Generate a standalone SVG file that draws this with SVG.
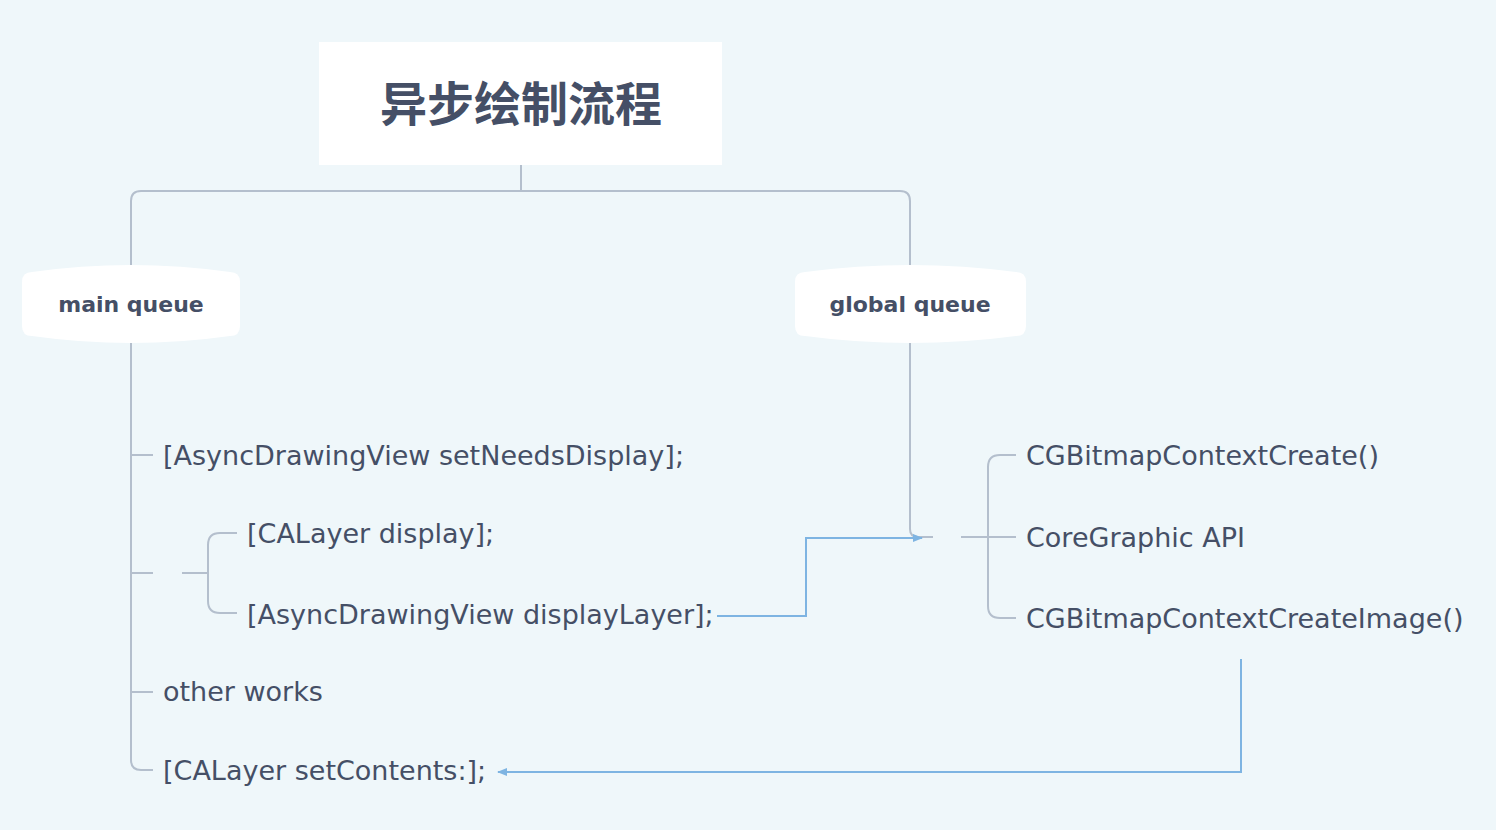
<svg xmlns="http://www.w3.org/2000/svg" width="1496" height="830" viewBox="0 0 1496 830">
<defs>
<style>
.bg{fill:#eff7fa}
.node{fill:#ffffff}
.ln{fill:none;stroke:#b4bfcd;stroke-width:2}
.bl{fill:none;stroke:#7eb4e2;stroke-width:2}
.t{font-family:"DejaVu Sans",sans-serif;font-size:27px;fill:#454f66}
.b{font-family:"DejaVu Sans",sans-serif;font-size:22px;font-weight:bold;fill:#454f66}
.h{font-family:"Noto Sans CJK SC","Noto Sans",sans-serif;font-size:47px;font-weight:bold;fill:#454f66}
</style>
<marker id="ar" viewBox="0 0 10 10" refX="9" refY="5" markerWidth="5" markerHeight="5" orient="auto" markerUnits="strokeWidth">
<path d="M0,1 L10,5 L0,9 Z" fill="#7eb4e2"/>
</marker>
</defs>
<rect class="bg" x="0" y="0" width="1496" height="830"/>
<g id="connectors">
<path class="ln" d="M521,165 V191"/>
<path class="ln" d="M141,191 H900 Q910,191 910,201 V265"/>
<path class="ln" d="M141,191 Q131,191 131,201 V265"/>
<path class="ln" d="M131,343 V760 Q131,770 141,770 H153"/>
<path class="ln" d="M131,455 H153"/>
<path class="ln" d="M131,573 H153"/>
<path class="ln" d="M131,692 H153"/>
<path class="ln" d="M182,573 H208"/>
<path class="ln" d="M237,533 H220 Q208,533 208,545 V601 Q208,613 220,613 H237"/>
<path class="ln" d="M910,343 V529 Q910,537 918,537 H933"/>
<path class="ln" d="M961,537 H1016"/>
<path class="ln" d="M1016,455 H1000 Q988,455 988,467 V606 Q988,618 1000,618 H1016"/>
<path class="bl" d="M717,616 H806 V538 H922" marker-end="url(#ar)"/>
<path class="bl" d="M1241,659 V772 H498" marker-end="url(#ar)"/>
</g>
<g id="title">
<rect class="node" x="319" y="42" width="403" height="123"/>
<text class="h" x="521" y="121" text-anchor="middle">异步绘制流程</text>
</g>
<g id="main-queue">
<path class="node" d="M22,282 Q22,272 32,272 Q131,258 230,272 Q240,272 240,282 V326 Q240,336 230,336 Q131,350 32,336 Q22,336 22,326 Z"/>
<text class="b" x="131" y="312" text-anchor="middle">main queue</text>
</g>
<g id="global-queue">
<path class="node" d="M795,282 Q795,272 805,272 Q910,258 1016,272 Q1026,272 1026,282 V326 Q1026,336 1016,336 Q910,350 805,336 Q795,336 795,326 Z"/>
<text class="b" x="910" y="312" text-anchor="middle">global queue</text>
</g>
<g id="set-needs-display"><text class="t" x="163" y="465">[AsyncDrawingView setNeedsDisplay];</text></g>
<g id="calayer-display"><text class="t" x="247" y="543">[CALayer display];</text></g>
<g id="display-layer"><text class="t" x="247" y="624">[AsyncDrawingView displayLayer];</text></g>
<g id="other-works"><text class="t" x="163" y="701">other works</text></g>
<g id="set-contents"><text class="t" x="163" y="780">[CALayer setContents:];</text></g>
<g id="cg-create"><text class="t" x="1026" y="465">CGBitmapContextCreate()</text></g>
<g id="cg-api"><text class="t" x="1026" y="547">CoreGraphic API</text></g>
<g id="cg-image"><text class="t" x="1026" y="628">CGBitmapContextCreateImage()</text></g>
</svg>
